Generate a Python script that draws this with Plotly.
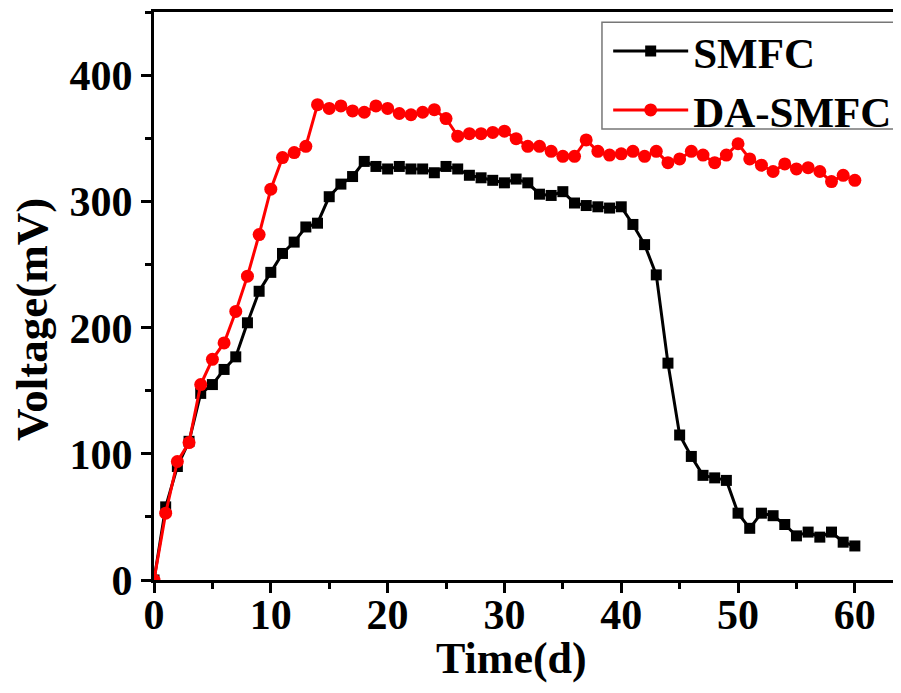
import plotly.graph_objects as go

days = list(range(0, 61))
smfc = [0, 58, 90, 110, 148, 155, 167, 177, 204, 229, 244, 259, 268, 280, 283,
        304, 314, 320, 332, 328, 326, 328, 326, 326, 323, 328, 326, 321, 319, 317,
        315, 318, 315, 306, 305, 308, 299, 297, 296, 295, 296, 282, 266, 242, 172,
        115, 98, 83, 81, 79, 53, 41, 53, 51, 44, 35, 38, 34, 38, 30, 27]
da_smfc = [0, 53, 94, 109, 155, 175, 188, 213, 241, 274, 310, 335, 339, 344, 377,
           374, 376, 372, 371, 376, 374, 370, 369, 371, 373, 366, 352, 354, 354, 355,
           356, 350, 344, 344, 340, 336, 336, 349, 340, 337, 338, 340, 336, 340, 331,
           334, 340, 337, 331, 337, 346, 334, 329, 324, 330, 326, 327, 324, 316, 321, 317]
x_ticks = [0, 10, 20, 30, 40, 50, 60]
y_ticks = [0, 100, 200, 300, 400]

FONT = "Liberation Serif"

fig = go.Figure()
fig.add_trace(go.Scatter(x=days, y=smfc, name="SMFC", mode="lines+markers",
                         line=dict(color="black", width=3),
                         marker=dict(symbol="square", size=11, color="black")))
fig.add_trace(go.Scatter(x=days, y=da_smfc, name="DA-SMFC", mode="lines+markers",
                         line=dict(color="#ff0000", width=3),
                         marker=dict(symbol="circle", size=13, color="#ff0000")))

fig.update_layout(
    width=893, height=685,
    margin=dict(l=146, r=0, t=4, b=113, autoexpand=False),
    plot_bgcolor="white", paper_bgcolor="white",
    font=dict(family=FONT, color="black"),
    showlegend=True,
    legend=dict(x=0.608, y=0.992, xanchor="left", yanchor="top",
                bgcolor="rgba(0,0,0,0)", borderwidth=0,
                font=dict(family=FONT, size=43, weight="bold", color="black"),
                tracegroupgap=0, itemwidth=75),
    shapes=[dict(type="rect", xref="paper", yref="paper",
                 x0=0.5997, x1=1.05, y0=0.794, y1=0.982,
                 line=dict(color="#777777", width=1.5), fillcolor="rgba(0,0,0,0)",
                 layer="above")],
    annotations=[
        dict(text="Time(d)", xref="paper", yref="paper", x=0.479, y=-0.138,
             xanchor="center", yanchor="middle", showarrow=False,
             font=dict(family=FONT, size=44, weight="bold")),
        dict(text="Voltage(mV)", xref="paper", yref="paper", x=-0.163, y=0.458,
             xanchor="center", yanchor="middle", showarrow=False, textangle=-90,
             font=dict(family=FONT, size=45, weight="bold")),
    ],
)
fig.update_xaxes(
    range=[0, 63.95], showgrid=False, zeroline=False,
    showline=True, linecolor="black", linewidth=3, mirror=True,
    ticks="outside", tickvals=x_ticks, ticklen=10, tickwidth=3, tickcolor="black",
    minor=dict(dtick=5, tick0=0, ticks="outside", ticklen=6, tickwidth=3, tickcolor="black"),
    tickfont=dict(family=FONT, size=42, weight="bold"), ticklabelstandoff=-14,
)
fig.update_yaxes(
    range=[0, 450.5], showgrid=False, zeroline=False,
    showline=True, linecolor="black", linewidth=3, mirror=False,
    ticks="outside", tickvals=y_ticks, ticklen=10, tickwidth=3, tickcolor="black",
    minor=dict(dtick=50, tick0=0, ticks="outside", ticklen=6, tickwidth=3, tickcolor="black"),
    tickfont=dict(family=FONT, size=42, weight="bold"),
)

fig.write_html("out.html")
